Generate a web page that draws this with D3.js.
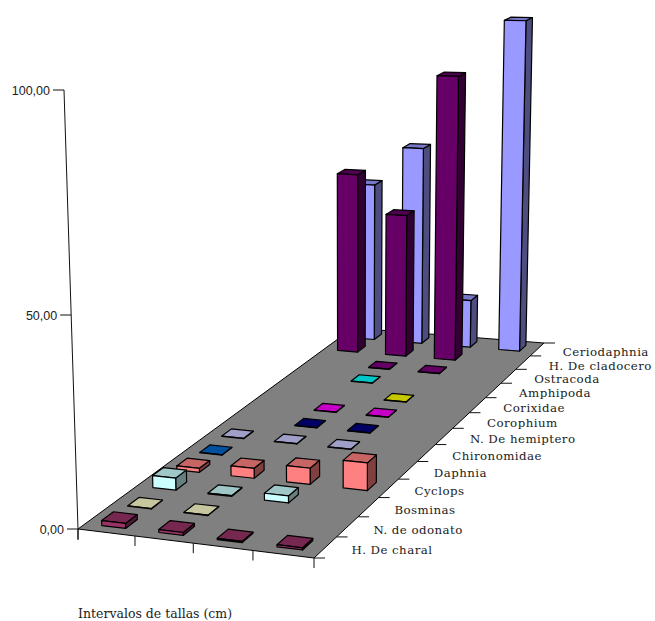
<!DOCTYPE html>
<html><head><meta charset="utf-8"><style>html,body{margin:0;background:#fff}svg{display:block}</style>
<script src="https://cdnjs.cloudflare.com/ajax/libs/d3/7.8.5/d3.min.js"></script></head><body>
<svg id="c" width="655" height="621"></svg>
<script>
// Prey categories from the front of the floor to the back
const categories=["H. De charal","N. de odonato","Bosminas","Cyclops","Daphnia","Chironomidae","N. De hemiptero","Corophium","Corixidae","Amphipoda","Ostracoda","H. De cladocero","Ceriodaphnia"];
const sizeClasses=["i1","i2","i3","i4"];
const rowColors=["#993366","#FFFFCC","#CCFFFF","#FF8080","#0066CC","#CCCCFF","#000080","#FF00FF","#FFFF00","#00FFFF","#800080","#660066","#9999FF"];
const charal=[1.2,0.7,0.3,0.5];
const odonato=[0.1,0.1,null,null];
const bosminas=[3,0.2,1.7,null];
const cyclops=[1,2.5,4,6.8];
const daphnia=[0.1,null,null,null];
const chironomidae=[0.1,0.1,0.1,null];
const hemiptero=[null,0.1,0.1,null];
const corophium=[null,0.1,0.1,null];
const corixidae=[null,null,0.1,null];
const amphipoda=[null,0.1,null,null];
const ostracoda=[null,0.1,0.1,null];
const cladocero=[50.7,40,78.8,null];
const ceriodaphnia=[45,56,13.5,92];
const rows=[charal,odonato,bosminas,cyclops,daphnia,chironomidae,hemiptero,corophium,corixidae,amphipoda,ostracoda,cladocero,ceriodaphnia];
const valueTicks=[0,50,100];

// Floor quad and vertical axis used to build the perspective camera
const P00=[78,529],P10=[314,558],P11=[544,343],P01=[353,328];
const H50=[71,315],H100=[64,90];
function quadHomography(p0,p1,p2,p3){
  const dx1=p1[0]-p2[0],dx2=p3[0]-p2[0],sx=p0[0]-p1[0]+p2[0]-p3[0];
  const dy1=p1[1]-p2[1],dy2=p3[1]-p2[1],sy=p0[1]-p1[1]+p2[1]-p3[1];
  const det=dx1*dy2-dx2*dy1;
  const g=(sx*dy2-dx2*sy)/det,h=(dx1*sy-sx*dy1)/det;
  return [p1[0]-p0[0]+g*p1[0],p3[0]-p0[0]+h*p3[0],p0[0],
          p1[1]-p0[1]+g*p1[1],p3[1]-p0[1]+h*p3[1],p0[1],g,h];
}
const Hm=quadHomography(P00,P10,P11,P01);
// Height column of the camera, solved from the tick positions on the axis
const c3=(H100[1]+P00[1]-2*H50[1])/(H50[1]-H100[1]);
const b3=H100[1]*(1+c3)-P00[1];
const a3=H100[0]*(1+c3)-P00[0];
function project(u,v,w){
  const d=Hm[6]*u+Hm[7]*v+c3*w+1;
  return [(Hm[0]*u+Hm[1]*v+a3*w+Hm[2])/d,(Hm[3]*u+Hm[4]*v+b3*w+Hm[5])/d];
}
const uScale=d3.scaleBand().domain(sizeClasses).range([0,1]).paddingInner(0.58).paddingOuter(0.29);
const vScale=d3.scaleBand().domain(categories).range([0,1]).paddingInner(0.55).paddingOuter(0.275);
const wScale=d3.scaleLinear().domain([0,100]).range([0,1]);
const uEdge=d3.scaleLinear().domain([0,sizeClasses.length]).range([0,1]);
const vEdge=d3.scaleLinear().domain([0,categories.length]).range([0,1]);

const svg=d3.select("#c");
const line=d3.line();
const ink="#000";

// Floor
svg.append("path").attr("d",line([P00,P10,P11,P01])+"Z").attr("fill","#808080").attr("stroke",ink).attr("stroke-width",1);

// Value axis
const axisG=svg.append("g");
axisG.append("path").attr("d",line([[P00[0],P00[1]+11],P00,project(0,0,1)])).attr("fill","none").attr("stroke","#111").attr("stroke-width",1);
valueTicks.forEach(t=>{
  const p=project(0,0,wScale(t));
  axisG.append("path").attr("d",line([[p[0]-11,p[1]],p])).attr("stroke","#111").attr("fill","none");
  axisG.append("text").attr("x",p[0]-14).attr("y",p[1]+4.5).attr("text-anchor","end")
    .attr("font-family","Liberation Sans").attr("font-size",12.5).attr("fill","#222")
    .text(d3.format(".2f")(t).replace(".",","));
});
// Ticks along the front and right edges of the floor
d3.range(sizeClasses.length+1).forEach(i=>{
  const p=project(uEdge(i),0,0);
  svg.append("path").attr("d",line([p,[p[0],p[1]+10]])).attr("stroke","#111").attr("fill","none");
});
d3.range(categories.length+1).forEach(i=>{
  const p=project(1,vEdge(i),0);
  svg.append("path").attr("d",line([p,[p[0]+11,p[1]]])).attr("stroke","#111").attr("fill","none");
});
// Category labels beside the right edge
categories.forEach((c,i)=>{
  const p=project(1,vEdge(i+0.5),0);
  svg.append("text").attr("x",p[0]+26-i*0.03).attr("y",p[1]+7)
    .attr("font-family","DejaVu Serif").attr("font-size",11.8).attr("letter-spacing",0.45).attr("fill","#222").text(c);
});
svg.append("text").attr("x",78).attr("y",618).attr("font-family","DejaVu Serif").attr("font-size",12.5).attr("fill","#222").text("Intervalos de tallas (cm)");

// Bars, painted from the back row forward
const bars=svg.append("g");
d3.range(categories.length-1,-1,-1).forEach(r=>{
  sizeClasses.forEach((s,c)=>{
    const val=rows[r][c];
    if(val===null) return;
    const u0=uScale(s),u1=u0+uScale.bandwidth(),v0=vScale(categories[r]),v1=v0+vScale.bandwidth(),w=wScale(val);
    const base=d3.rgb(rowColors[r]);
    const shade=k=>d3.rgb(base.r*k,base.g*k,base.b*k).formatHex();
    const face=(pts,fill)=>bars.append("path").attr("d",line(pts)+"Z").attr("fill",fill)
      .attr("stroke",ink).attr("stroke-width",1.2).attr("stroke-linejoin","round");
    face([project(u1,v0,0),project(u1,v1,0),project(u1,v1,w),project(u1,v0,w)],shade(0.5));
    face([project(u0,v0,w),project(u1,v0,w),project(u1,v1,w),project(u0,v1,w)],shade(0.78));
    face([project(u0,v0,0),project(u1,v0,0),project(u1,v0,w),project(u0,v0,w)],shade(1));
  });
});
</script></body></html>
